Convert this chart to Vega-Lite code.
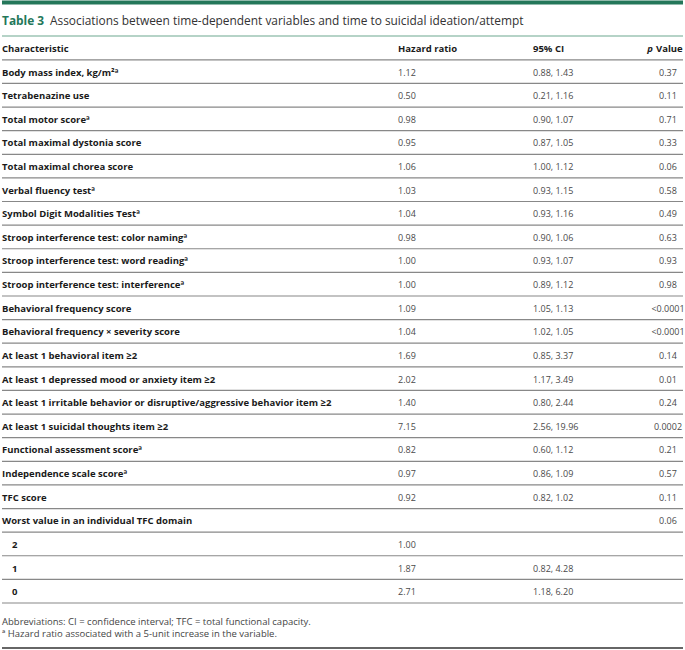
{
  "$schema": "https://vega.github.io/schema/vega-lite/v6.json",
  "width": 685,
  "height": 650,
  "padding": 0,
  "autosize": {"type": "fit", "contains": "padding"},
  "background": "white",
  "config": {"view": {"stroke": null}, "text": {"font": "Open Sans"}},
  "datasets": {
    "rows": [
      {"r": 1, "c": "Body mass index, kg/m²ª", "hr": "1.12", "ci": "0.88, 1.43", "p": "0.37"},
      {"r": 2, "c": "Tetrabenazine use", "hr": "0.50", "ci": "0.21, 1.16", "p": "0.11"},
      {"r": 3, "c": "Total motor scoreª", "hr": "0.98", "ci": "0.90, 1.07", "p": "0.71"},
      {"r": 4, "c": "Total maximal dystonia score", "hr": "0.95", "ci": "0.87, 1.05", "p": "0.33"},
      {"r": 5, "c": "Total maximal chorea score", "hr": "1.06", "ci": "1.00, 1.12", "p": "0.06"},
      {"r": 6, "c": "Verbal fluency testª", "hr": "1.03", "ci": "0.93, 1.15", "p": "0.58"},
      {"r": 7, "c": "Symbol Digit Modalities Testª", "hr": "1.04", "ci": "0.93, 1.16", "p": "0.49"},
      {"r": 8, "c": "Stroop interference test: color namingª", "hr": "0.98", "ci": "0.90, 1.06", "p": "0.63"},
      {"r": 9, "c": "Stroop interference test: word readingª", "hr": "1.00", "ci": "0.93, 1.07", "p": "0.93"},
      {"r": 10, "c": "Stroop interference test: interferenceª", "hr": "1.00", "ci": "0.89, 1.12", "p": "0.98"},
      {"r": 11, "c": "Behavioral frequency score", "hr": "1.09", "ci": "1.05, 1.13", "p": "<0.0001"},
      {"r": 12, "c": "Behavioral frequency × severity score", "hr": "1.04", "ci": "1.02, 1.05", "p": "<0.0001"},
      {"r": 13, "c": "At least 1 behavioral item ≥2", "hr": "1.69", "ci": "0.85, 3.37", "p": "0.14"},
      {"r": 14, "c": "At least 1 depressed mood or anxiety item ≥2", "hr": "2.02", "ci": "1.17, 3.49", "p": "0.01"},
      {"r": 15, "c": "At least 1 irritable behavior or disruptive/aggressive behavior item ≥2", "hr": "1.40", "ci": "0.80, 2.44", "p": "0.24"},
      {"r": 16, "c": "At least 1 suicidal thoughts item ≥2", "hr": "7.15", "ci": "2.56, 19.96", "p": "0.0002"},
      {"r": 17, "c": "Functional assessment scoreª", "hr": "0.82", "ci": "0.60, 1.12", "p": "0.21"},
      {"r": 18, "c": "Independence scale scoreª", "hr": "0.97", "ci": "0.86, 1.09", "p": "0.57"},
      {"r": 19, "c": "TFC score", "hr": "0.92", "ci": "0.82, 1.02", "p": "0.11"},
      {"r": 20, "c": "Worst value in an individual TFC domain", "hr": "", "ci": "", "p": "0.06"},
      {"r": 21, "c": "2", "hr": "1.00", "ci": "", "p": ""},
      {"r": 22, "c": "1", "hr": "1.87", "ci": "0.82, 4.28", "p": ""},
      {"r": 23, "c": "0", "hr": "2.71", "ci": "1.18, 6.20", "p": ""}
    ],
    "seps": [
      {"r": 0.46}, {"r": 1.46}, {"r": 2.46}, {"r": 3.46}, {"r": 4.46}, {"r": 5.46},
      {"r": 6.46}, {"r": 7.46}, {"r": 8.46}, {"r": 9.46}, {"r": 10.46}, {"r": 11.46},
      {"r": 12.46}, {"r": 13.46}, {"r": 14.46}, {"r": 15.46}, {"r": 16.46}, {"r": 17.46},
      {"r": 18.46}, {"r": 19.46}, {"r": 20.46}, {"r": 21.46}, {"r": 22.46}, {"r": 23.46}
    ]
  },
  "encoding": {
    "y": {"field": "r", "type": "quantitative", "axis": null,
          "scale": {"domain": [-2.03, 25.45], "reverse": true, "nice": false, "zero": false}}
  },
  "layer": [
    {"data": {"values": [{"r": -1.97}]}, "mark": {"type": "rule", "color": "#24775a", "strokeWidth": 4}, "encoding": {}},
    {"data": {"values": [{"r": -0.55}]}, "mark": {"type": "rule", "color": "#9cc4b4", "strokeWidth": 1.5}, "encoding": {}},
    {"data": {"name": "seps"}, "mark": {"type": "rule", "color": "#888888", "strokeWidth": 1.2}, "encoding": {}},
    {"data": {"values": [{"r": 25.37}]}, "mark": {"type": "rule", "color": "#333333", "strokeWidth": 1.5}, "encoding": {}},
    {"data": {"values": [{"r": -1.18, "t": "Table 3"}]},
     "mark": {"type": "text", "align": "left", "baseline": "middle", "fontSize": 11.9, "fontWeight": "bold", "color": "#24775a"},
     "encoding": {"x": {"value": 0}, "text": {"field": "t"}}},
    {"data": {"values": [{"r": -1.18, "t": "Associations between time-dependent variables and time to suicidal ideation/attempt"}]},
     "mark": {"type": "text", "align": "left", "baseline": "middle", "fontSize": 11.9, "color": "#333333"},
     "encoding": {"x": {"value": 48}, "text": {"field": "t"}}},
    {"data": {"values": [{"r": 0, "a": "Characteristic", "b": "Hazard ratio", "d": "95% CI", "e": "Value", "f": "p"}]},
     "layer": [
       {"mark": {"type": "text", "align": "left", "baseline": "middle", "fontSize": 9.5, "fontWeight": "bold", "color": "#1a1a1a"},
        "encoding": {"x": {"value": 0}, "text": {"field": "a"}}},
       {"mark": {"type": "text", "align": "left", "baseline": "middle", "fontSize": 9.5, "fontWeight": "bold", "color": "#1a1a1a"},
        "encoding": {"x": {"value": 396}, "text": {"field": "b"}}},
       {"mark": {"type": "text", "align": "left", "baseline": "middle", "fontSize": 9.5, "fontWeight": "bold", "color": "#1a1a1a"},
        "encoding": {"x": {"value": 531}, "text": {"field": "d"}}},
       {"mark": {"type": "text", "align": "left", "baseline": "middle", "fontSize": 9.5, "fontWeight": "bold", "color": "#1a1a1a"},
        "encoding": {"x": {"value": 654}, "text": {"field": "e"}}},
       {"mark": {"type": "text", "align": "right", "baseline": "middle", "fontSize": 9.5, "fontWeight": "bold", "fontStyle": "italic", "color": "#1a1a1a"},
        "encoding": {"x": {"value": 651}, "text": {"field": "f"}}}
     ]},
    {"data": {"name": "rows"},
     "layer": [
       {"transform": [{"filter": "datum.r <= 20"}],
        "mark": {"type": "text", "align": "left", "baseline": "middle", "fontSize": 9.5, "fontWeight": "bold", "color": "#1a1a1a"},
        "encoding": {"x": {"value": 0}, "text": {"field": "c"}}},
       {"transform": [{"filter": "datum.r > 20"}],
        "mark": {"type": "text", "align": "left", "baseline": "middle", "fontSize": 9.5, "fontWeight": "bold", "color": "#1a1a1a"},
        "encoding": {"x": {"value": 10}, "text": {"field": "c"}}},
       {"mark": {"type": "text", "align": "left", "baseline": "middle", "fontSize": 9, "color": "#4a4a4a"},
        "encoding": {"x": {"value": 396}, "text": {"field": "hr"}}},
       {"mark": {"type": "text", "align": "left", "baseline": "middle", "fontSize": 9, "color": "#4a4a4a"},
        "encoding": {"x": {"value": 531}, "text": {"field": "ci"}}},
       {"mark": {"type": "text", "align": "center", "baseline": "middle", "fontSize": 9, "color": "#4a4a4a"},
        "encoding": {"x": {"value": 666}, "text": {"field": "p"}}}
     ]},
    {"data": {"values": [
       {"r": 24.27, "t": "Abbreviations: CI = confidence interval; TFC = total functional capacity."},
       {"r": 24.78, "t": "ª Hazard ratio associated with a 5-unit increase in the variable."}
     ]},
     "mark": {"type": "text", "align": "left", "baseline": "middle", "fontSize": 9.5, "color": "#444444"},
     "encoding": {"x": {"value": 0}, "text": {"field": "t"}}}
  ]
}
